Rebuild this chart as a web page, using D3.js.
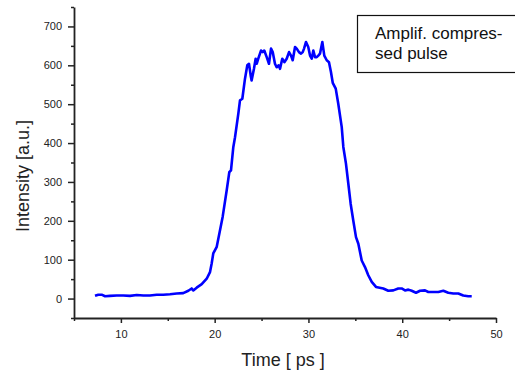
<!DOCTYPE html>
<html>
<head>
<meta charset="utf-8">
<script src="https://cdn.jsdelivr.net/npm/d3@7"></script>
<style>
  html, body { margin: 0; padding: 0; background: #fff; }
  svg { display: block; font-family: "Liberation Sans", Arial, sans-serif; }
  .axis text { font-size: 11px; fill: #222; }
  .axis path, .axis line { stroke: #222; }
</style>
</head>
<body>
<div id="chart"></div>
<script>
// time in ps, intensity in a.u.
const timePs = [
  7.24, 7.59, 7.95, 8.31, 8.84, 9.55, 10.26, 10.97, 11.69, 12.39,
  13.10, 13.82, 14.52, 15.24, 15.95, 16.65, 17.19, 17.55, 17.72, 18.08,
  18.62, 19.15, 19.50, 19.68, 19.85, 20.22, 20.57, 20.85, 21.28, 21.56,
  21.74, 21.99, 22.17, 22.52, 22.70, 22.95, 23.23, 23.48, 23.66, 23.84,
  23.94, 24.19, 24.37, 24.48, 24.65, 24.94, 25.12, 25.29, 25.55, 25.79,
  26.01, 26.19, 26.43, 26.61, 26.83, 26.97, 27.21, 27.43, 27.68, 27.93,
  28.14, 28.32, 28.57, 28.75, 28.99, 29.21, 29.39, 29.53, 29.74, 29.98,
  30.17, 30.35, 30.52, 30.70, 30.88, 31.05, 31.23, 31.48, 31.69, 31.95,
  32.19, 32.40, 32.59, 32.91, 33.18, 33.55, 33.72, 34.00, 34.25, 34.50,
  34.78, 35.07, 35.32, 35.68, 36.03, 36.38, 36.75, 37.20, 37.98, 38.51,
  39.05, 39.58, 39.94, 40.30, 40.65, 41.01, 41.47, 41.90, 42.43, 42.78,
  43.31, 43.85, 44.38, 44.91, 45.45, 45.98, 46.51, 47.04, 47.41
];
const intensity = [
  7, 10, 10, 6, 7, 8, 8, 7, 9, 8,
  8, 10, 10, 11, 13, 14, 20, 26, 21, 28,
  37, 51, 68, 90, 116, 133, 176, 210, 278, 325,
  330, 390, 415, 475, 510, 514, 565, 600, 604, 574,
  561, 591, 617, 604, 617, 638, 634, 638, 621, 604,
  643, 634, 604, 595, 600, 591, 617, 608, 617, 634,
  625, 613, 647, 643, 634, 630, 634, 643, 660, 647,
  625, 617, 638, 621, 621, 625, 630, 660, 625, 613,
  608, 583, 555, 540, 501, 441, 390, 347, 296, 244,
  201, 158, 141, 98, 81, 60, 43, 30, 26, 20,
  21, 26, 26, 21, 23, 20, 15, 20, 21, 17,
  17, 17, 20, 15, 13, 13, 8, 6, 6
];
const xMajorTicks = [10, 20, 30, 40, 50];
const xMinorTicks = [5, 15, 25, 35, 45];
const yMajorTicks = [0, 100, 200, 300, 400, 500, 600, 700];
const yMinorTicks = [-50, 50, 150, 250, 350, 450, 550, 650, 750];
const legendLines = ["Amplif. compres-", "sed pulse"];

const width = 515, height = 376;
const plot = { left: 74, right: 496, top: 7, bottom: 318 };

const svg = d3.select('#chart').append('svg')
  .attr('width', width)
  .attr('height', height);

const x = d3.scaleLinear().domain([5, 50]).range([plot.left, plot.right]);
const y = d3.scaleLinear().domain([-50, 750]).range([plot.bottom, plot.top]);

// minor ticks first, then the major ones with labels
svg.append('g').attr('class', 'axis')
  .attr('transform', `translate(0,${plot.bottom})`)
  .call(d3.axisBottom(x).tickValues(xMinorTicks).tickSize(3).tickFormat(''))
  .call(g => g.select('.domain').remove());
svg.append('g').attr('class', 'axis')
  .attr('transform', `translate(${plot.left},0)`)
  .call(d3.axisLeft(y).tickValues(yMinorTicks).tickSize(3).tickFormat(''))
  .call(g => g.select('.domain').remove());

svg.append('g').attr('class', 'axis')
  .attr('transform', `translate(0,${plot.bottom})`)
  .call(d3.axisBottom(x).tickValues(xMajorTicks).tickSize(5).tickSizeOuter(0).tickPadding(7));
svg.append('g').attr('class', 'axis')
  .attr('transform', `translate(${plot.left},0)`)
  .call(d3.axisLeft(y).tickValues(yMajorTicks).tickSize(6).tickSizeOuter(0).tickPadding(6));

svg.selectAll('.axis line').attr('stroke-width', 1.5);
svg.selectAll('.axis .domain').attr('stroke-width', 1.8);

// axis titles
svg.append('text')
  .attr('x', 283).attr('y', 366)
  .attr('text-anchor', 'middle')
  .attr('font-size', 18)
  .attr('fill', '#222')
  .text('Time [ ps ]');

svg.append('text')
  .attr('transform', 'translate(29,176) rotate(-90)')
  .attr('text-anchor', 'middle')
  .attr('font-size', 18)
  .attr('fill', '#222')
  .text('Intensity [a.u.]');

// pulse trace
const line = d3.line()
  .x((d, i) => x(timePs[i]))
  .y(d => y(d));

svg.append('path')
  .datum(intensity)
  .attr('fill', 'none')
  .attr('stroke', '#0000ff')
  .attr('stroke-width', 2.6)
  .attr('stroke-linejoin', 'round')
  .attr('d', line);

// legend box, runs past the right edge
svg.append('rect')
  .attr('x', 357.5).attr('y', 15.5)
  .attr('width', 170).attr('height', 57)
  .attr('fill', '#fff')
  .attr('stroke', '#111')
  .attr('stroke-width', 1.2);

svg.append('g').selectAll('text')
  .data(legendLines)
  .join('text')
  .attr('x', 375)
  .attr('y', (d, i) => 39 + i * 20)
  .attr('font-size', 17)
  .attr('fill', '#111')
  .text(d => d);
</script>
</body>
</html>
